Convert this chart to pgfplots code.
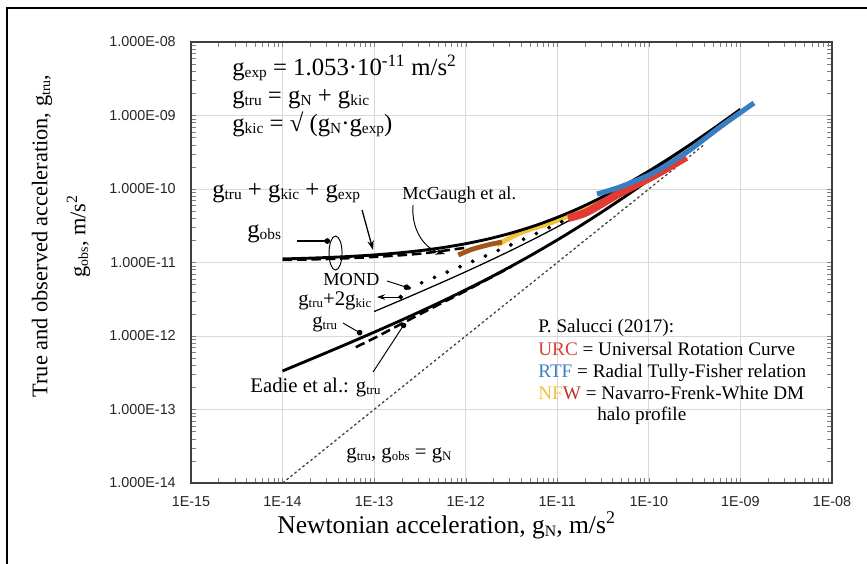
\documentclass[border=0pt]{standalone}
\usepackage{fontspec}
\setmainfont{Liberation Serif}
\newfontfamily\arial{Liberation Sans}
\usepackage{pgfplots}
\pgfplotsset{compat=1.18}
\usetikzlibrary{arrows.meta}
\definecolor{urc}{HTML}{E23B33}
\definecolor{rtf}{HTML}{3A7EC2}
\definecolor{nfw}{HTML}{F2C23A}
\definecolor{nfwred}{HTML}{B8302A}
\definecolor{brownband}{HTML}{A3561C}
\makeatletter
\newcommand{\sub}[1]{\raisebox{-0.12em}{\fontsize{\the\dimexpr 0.62\dimexpr\f@size pt\relax\relax}{1pt}\selectfont #1}}
\makeatother
\newcommand{\sups}[1]{\textsuperscript{#1}}

\begin{document}
\begin{tikzpicture}
\path[use as bounding box] (0,0) rectangle (19.074cm,-12.408cm);
\begin{axis}[
  at={(4.202cm,-0.924cm)}, anchor=north west,
  width=14.102cm, height=9.702cm, scale only axis,
  xmode=log, ymode=log,
  xmin=1e-15, xmax=1e-8, ymin=1e-14, ymax=1e-8,
  xtick={1e-15,1e-14,1e-13,1e-12,1e-11,1e-10,1e-9,1e-8},
  xticklabels={1E-15,1E-14,1E-13,1E-12,1E-11,1E-10,1E-09,1E-08},
  ytick={1e-14,1e-13,1e-12,1e-11,1e-10,1e-9,1e-8},
  yticklabels={1.000E-14,1.000E-13,1.000E-12,1.000E-11,1.000E-10,1.000E-09,1.000E-08},
  major tick length=0pt, minor tick num=0,
  grid=major, grid style={gray!30, line width=0.5pt},
  axis line style={black!75, line width=0.7pt},
  tick label style={font=\arial\fontsize{9}{10}\selectfont, text=black!85},
  xticklabel style={yshift=-5pt},
  yticklabel style={xshift=-6pt},
]
% g_tru = g_obs = g_N
\addplot[black!75, dash pattern=on 1.6pt off 1.6pt, line width=0.8pt] coordinates {(1e-14,1e-14) (4e-10,4e-10)};
% NFW
\addplot[nfw, line width=3pt, smooth] coordinates {(2.198e-12,1.730e-11) (3.917e-12,2.518e-11) (8.318e-12,3.443e-11) (1.3772e-11,4.426e-11) (3.155e-11,7.080e-11) (6.223e-11,1.030e-10) (1.0814e-10,1.410e-10)};
% brown band
\addplot[brownband, line width=3pt, smooth] coordinates {(8.299e-13,1.265e-11) (1.1143e-12,1.479e-11) (1.4322e-12,1.626e-11) (1.9364e-12,1.787e-11) (2.4889e-12,1.901e-11)};
% g_tru + g_kic + g_exp
\addplot[black, line width=1.8pt, smooth] coordinates {(1e-14,1.1189e-11) (1.7783e-14,1.1413e-11) (3.1623e-14,1.1716e-11) (5.6234e-14,1.2125e-11) (1e-13,1.2682e-11) (1.7783e-13,1.3445e-11) (3.1623e-13,1.4496e-11) (5.6234e-13,1.5959e-11) (1e-12,1.8020e-11) (1.7783e-12,2.0963e-11) (3.1623e-12,2.5234e-11) (5.6234e-12,3.1544e-11) (1e-11,4.1054e-11) (1.7783e-11,5.5682e-11) (3.1623e-11,7.8649e-11) (5.6234e-11,1.1543e-10) (1e-10,1.7543e-10) (1.7783e-10,2.7490e-10) (3.1623e-10,4.4218e-10) (5.6234e-10,7.2679e-10) (1e-9,1.2158e-9)};
% McGaugh et al.
\addplot[black, line width=1.6pt, dash pattern=on 6pt off 3pt, smooth] coordinates {(1e-14,1.0845e-11) (3.1623e-14,1.1178e-11) (1e-13,1.1912e-11) (3.1623e-13,1.3196e-11) (1e-12,1.5899e-11)};
% g_tru
\addplot[black, line width=1.8pt, smooth] coordinates {(1e-14,3.345e-13) (1.7783e-14,4.5051e-13) (3.1623e-14,6.0868e-13) (5.6234e-14,8.2575e-13) (1e-13,1.1262e-12) (1.7783e-13,1.5462e-12) (3.1623e-13,2.1410e-12) (5.6234e-13,2.9957e-12) (1e-12,4.245e-12) (1.7783e-12,6.1054e-12) (3.1623e-12,8.9329e-12) (5.6234e-12,1.3319e-11) (1e-11,2.0262e-11) (1.7783e-11,3.1467e-11) (3.1623e-11,4.9871e-11) (5.6234e-11,8.0567e-11) (1e-10,1.3245e-10) (1.7783e-10,2.2109e-10) (3.1623e-10,3.7394e-10) (5.6234e-10,6.3930e-10) (1e-9,1.1026e-9)};
% Eadie et al.
\addplot[black, line width=1.6pt, dash pattern=on 6pt off 3pt, smooth] coordinates {(6.3096e-14,7.054e-13) (1e-13,9.331e-13) (1.7783e-13,1.3644e-12) (3.1623e-13,1.9798e-12) (5.6234e-13,2.8582e-12) (1e-12,4.1143e-12) (3.1623e-12,8.794e-12)};
% g_tru + 2 g_kic (thin)
\addplot[black, line width=0.8pt, smooth] coordinates {(1e-13,2.1523e-12) (1.7783e-13,2.9147e-12) (3.1623e-13,3.9658e-12) (5.6234e-13,5.4291e-12) (1e-12,7.49e-12) (1.7783e-12,1.0433e-11) (3.1623e-12,1.4704e-11) (5.6234e-12,2.1014e-11) (1e-11,3.0523e-11) (1.7783e-11,4.5151e-11) (3.1623e-11,6.8118e-11) (5.6234e-11,1.0490e-10) (1e-10,1.649e-10) (1.7783e-10,2.6437e-10) (3.1623e-10,4.3165e-10) (5.6234e-10,7.1626e-10) (1e-9,1.2052e-9)};
% MOND
\addplot[only marks, mark=*, mark size=1pt, black] coordinates {(2.404e-13,4.507e-12) (3.304e-13,5.308e-12) (4.560e-13,6.271e-12) (6.281e-13,7.407e-12) (8.670e-13,8.769e-12) (1.1912e-12,1.0370e-11) (1.6406e-12,1.2296e-11) (2.2646e-12,1.4624e-11) (3.1117e-12,1.7385e-11) (4.2855e-12,2.0741e-11) (5.9156e-12,2.4846e-11) (8.1470e-12,2.9821e-11) (1.1194e-11,3.587e-11)};
% URC
\addplot[urc, line width=5pt, smooth] coordinates {(1.3092e-11,4.029e-11) (2.1135e-11,4.865e-11) (4.842e-11,8.822e-11) (1.1092e-10,1.502e-10) (2.547e-10,2.725e-10)};
% RTF
\addplot[rtf, line width=3.2pt, smooth] coordinates {(2.716e-11,8.551e-11) (4.842e-11,1.0647e-10) (1.1092e-10,1.651e-10) (2.612e-10,3.187e-10) (5.984e-10,6.976e-10) (1.406e-9,1.479e-9)};
\end{axis}

\begin{scope}[x=0.022cm, y=-0.022cm]
\draw[line width=1.2pt] (7,564) -- (7,8) -- (867,8);
% axis titles
\node[rotate=90, align=center, font=\fontsize{14}{23.8}\selectfont] at (61,236)
  {True and observed acceleration, g\sub{tru},\\ g\sub{obs}, m/s\sups{2}};
\node[anchor=base west, inner sep=0pt, font=\fontsize{16}{19}\selectfont] at (277,533)
  {Newtonian acceleration, g\sub{N}, m/s\sups{2}};
% formulas and large labels
\begin{scope}[every node/.style={anchor=base west, inner sep=0pt, font=\fontsize{15.5}{18}\selectfont}]
\node at (232,75) {g\sub{exp} = 1.053·10\sups{-11} m/s\sups{2}};
\node at (232,103) {g\sub{tru} = g\sub{N} + g\sub{kic}};
\node at (232,131) {g\sub{kic} = √ (g\sub{N}·g\sub{exp})};
\node at (212,197) {g\sub{tru} + g\sub{kic} + g\sub{exp}};
\node at (247,237) {g\sub{obs}};
\end{scope}
% medium labels
\begin{scope}[every node/.style={anchor=base west, inner sep=0pt, font=\fontsize{13}{15}\selectfont}]
\node at (298,305) {g\sub{tru}+2g\sub{kic}};
\node at (312,327) {g\sub{tru}};
\node at (250,392) {Eadie et al.: g\sub{tru}};
\node at (346,458) {g\sub{tru}, g\sub{obs} = g\sub{N}};
\end{scope}
% small labels
\begin{scope}[every node/.style={anchor=base west, inner sep=0pt, font=\fontsize{11.5}{14}\selectfont}]
\node at (402,199) {McGaugh et al.};
\node at (323,285) {MOND};
\end{scope}
\begin{scope}[every node/.style={anchor=base west, inner sep=0pt, font=\fontsize{12}{14}\selectfont}]
\node at (538,332) {P. Salucci (2017):};
\node at (538,355) {\textcolor{urc}{URC} = Universal Rotation Curve};
\node at (538,377) {\textcolor{rtf}{RTF} = Radial Tully-Fisher relation};
\node at (538,399) {\textcolor{nfw}{NF}\textcolor{nfwred}{W} = Navarro-Frenk-White DM};
\node at (597,420) {halo profile};
\end{scope}
\draw[line width=0.6pt] (335.5,253) ellipse [x radius=6.5, y radius=17];
\draw[line width=0.8pt, -{Circle[length=3.5pt]}] (297,241) -- (330,241);
\draw[line width=0.8pt, -{Stealth[length=6pt,width=4pt]}] (362,210) -- (373,250);
\draw[line width=0.6pt, -{Stealth[length=6pt,width=4pt]}] (413,205) to[out=-95,in=165] (445,254);
\draw[line width=0.6pt, -{Circle[length=3.5pt]}] (387,281) -- (409,288);
\draw[line width=0.6pt, {Circle[length=3pt]}-{Stealth[length=5pt,width=3.5pt]}] (403,297) -- (377,297);
\draw[line width=0.6pt, -{Circle[length=3.5pt]}] (343,323) -- (362,334);
\draw[line width=0.6pt, -{Circle[length=3.5pt]}] (373,372) -- (405,323);
\end{scope}
\end{tikzpicture}
\end{document}
